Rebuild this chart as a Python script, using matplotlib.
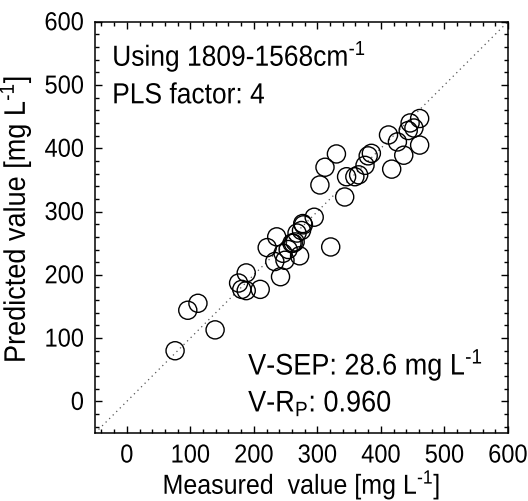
import numpy as np
import matplotlib
matplotlib.use('Agg')
import matplotlib.pyplot as plt
from matplotlib.ticker import FixedLocator, MultipleLocator
from matplotlib.patheffects import AbstractPathEffect
from matplotlib.transforms import Affine2D

plt.rcParams['font.family'] = 'Liberation Sans'
plt.rcParams['mathtext.fontset'] = 'custom'
plt.rcParams['mathtext.rm'] = 'Liberation Sans'
plt.rcParams['mathtext.it'] = 'Liberation Sans'


# the original lettering is a bit taller than Arial, stretch glyphs upward from the baseline
class Tall(AbstractPathEffect):
    def __init__(self, sy=1.1):
        super().__init__()
        self.sy = sy

    def draw_path(self, renderer, gc, tpath, affine, rgbFace=None):
        renderer.draw_path(gc, tpath, Affine2D().scale(1, self.sy) + affine, rgbFace)


tall = [Tall(1.1)]

# measured vs predicted (mg/L)
measured = [76, 96, 112, 139, 188, 176, 181, 188, 210, 221,
            236, 233, 242, 249, 246, 254, 260, 265, 272, 268,
            275, 278, 295, 321, 304, 312, 330, 343, 346, 359,
            365, 375, 380, 385, 417, 412, 426, 436, 446, 452,
            443, 461, 461, 277, 262]
predicted = [80, 144, 155, 113, 203, 187, 177, 175, 177, 243,
             260, 221, 197, 223, 234, 240, 250, 252, 230, 266,
             270, 279, 291, 244, 342, 370, 391, 323, 355, 355,
             358, 373, 388, 392, 367, 421, 410, 389, 440, 432,
             428, 447, 405, 281, 250]

lims = [-50, 600]
major = [0, 100, 200, 300, 400, 500, 600]

fig = plt.figure(figsize=(5.28, 5.01), dpi=100)
ax = fig.add_axes([0.18, 0.1357, 0.782, 0.821])

ax.plot(lims, lims, color='#555555', lw=0.9, linestyle=(0, (1, 3)))
ax.scatter(measured, predicted, s=170, facecolors='none', edgecolors='black', linewidths=1.0, zorder=3)

ax.set_xlim(lims)
ax.set_ylim(lims)
ax.xaxis.set_major_locator(FixedLocator(major))
ax.yaxis.set_major_locator(FixedLocator(major))
ax.xaxis.set_minor_locator(MultipleLocator(20))
ax.yaxis.set_minor_locator(MultipleLocator(20))
ax.tick_params(which='both', direction='in', top=True, right=True, labelsize=17, width=1.0)
ax.tick_params(which='major', length=5)
ax.tick_params(which='minor', length=3)
ax.tick_params(axis='x', pad=9)
ax.tick_params(axis='y', pad=8)
for s in ax.spines.values():
    s.set_linewidth(1.1)

xl = ax.set_xlabel('Measured  value [mg L$^{\\text{-1}}$]', fontsize=18, labelpad=1.5)
yl = ax.set_ylabel('Predicted value [mg L$^{\\text{-1}}$]', fontsize=19.5)
ax.yaxis.set_label_coords(-0.15, 0.52)

texts = [
    ax.text(-23, 530, 'Using 1809-1568cm$^{\\text{-1}}$', fontsize=19, va='baseline'),
    ax.text(-23, 471, 'PLS factor: 4', fontsize=19, va='baseline'),
    ax.text(191, 42, 'V-SEP: 28.6 mg L$^{\\text{-1}}$', fontsize=19.5, va='baseline'),
    ax.text(191, -16, 'V-R$_\\mathrm{P}$: 0.960', fontsize=19.5, va='baseline'),
]

for t in texts + [xl, yl] + ax.get_xticklabels() + ax.get_yticklabels():
    t.set_path_effects(tall)

fig.savefig('out.png', dpi=100)
